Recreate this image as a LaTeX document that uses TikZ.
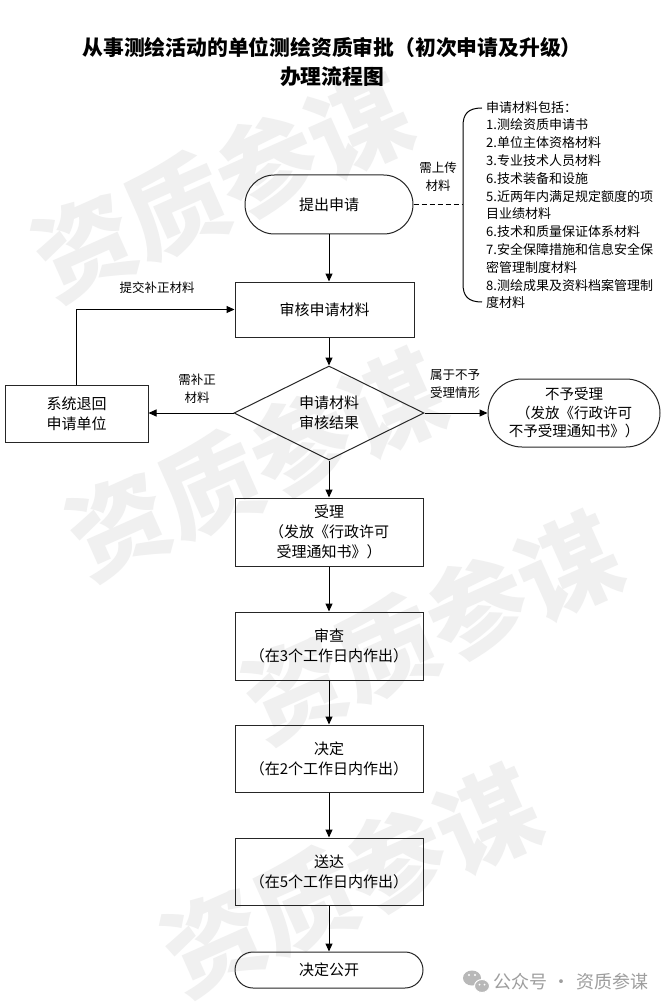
\documentclass[tikz,border=0pt]{standalone}
\usepackage{fontspec}
\setmainfont{Noto Sans CJK SC}
\usetikzlibrary{arrows.meta,shapes.geometric}
\begin{document}
\begin{tikzpicture}[x=1pt,y=-1pt,
  box/.style={draw=black!85,line width=1pt,minimum width=188pt,minimum height=68pt,inner sep=0pt,align=center,font=\fontsize{15}{20}\selectfont},
  term/.style={draw=black!85,line width=1pt,inner sep=0pt,align=center,font=\fontsize{15}{20}\selectfont},
  lbl/.style={inner sep=0pt,align=center,font=\fontsize{12.5}{18}\selectfont},
  arr/.style={draw=black,line width=1pt,-{Triangle[length=8pt,width=7pt]}},
  wm/.style={text=black!6,font=\fontsize{100}{100}\selectfont\bfseries,rotate=24,inner sep=0pt}]
\fill[white] (0,0) rectangle (665,1008);
\useasboundingbox (0,0) rectangle (665,1008);
% watermark
\node[wm] (wmA) at (221,185) {资质参谋};
\node[wm] (wmB) at (255,464) {资质参谋};
\node[wm] (wmC) at (431,627) {资质参谋};
\node[wm] (wmD) at (350,880) {资质参谋};
% title
\node[font=\fontsize{20.8}{29}\selectfont\bfseries,align=center,inner sep=0pt] (title) at (332,61.5) {从事测绘活动的单位测绘资质审批（初次申请及升级）\\办理流程图};
% nodes
\node[term,rounded corners=29.5pt,minimum width=168pt,minimum height=59pt] (apply) at (329,204.5) {提出申请};
\node[box,minimum width=179pt,minimum height=55pt] (review) at (324.5,309.5) {审核申请材料};
\node[diamond,draw=black!85,line width=1pt,inner sep=0pt,minimum width=190pt,minimum height=94pt,align=center,font=\fontsize{15}{20}\selectfont] (dec) at (329,413) {申请材料\\审核结果};
\node[box,minimum width=143pt,minimum height=57pt] (back) at (76.5,413.5) {系统退回\\申请单位};
\node[term,rounded corners=34pt,minimum width=172pt,minimum height=68pt,font=\fontsize{14.5}{18.5}\selectfont] (noacc) at (574,413) {不予受理\\（发放《行政许可\\不予受理通知书》）};
\node[box] (accept) at (329,532) {受理\\（发放《行政许可\\受理通知书》）};
\node[box] (exam) at (329,646) {审查\\（在3个工作日内作出）};
\node[box,minimum height=67pt] (decide) at (329,758.5) {决定\\（在2个工作日内作出）};
\node[box,minimum height=67pt] (deliver) at (329,871.5) {送达\\（在5个工作日内作出）};
\node[term,rounded corners=18pt,minimum width=188pt,minimum height=36pt] (public) at (329,970) {决定公开};
% list annotation
\coordinate (brk) at (463,204.5);
\draw[line width=1pt] (482,108) .. controls (468,108) and (463,114) .. (463,126) -- (463,284) .. controls (463,296) and (468,302) .. (482,302);
\draw[line width=1pt,dash pattern=on 5pt off 3pt] (apply.east) -- (brk);
\node[anchor=north west,inner sep=0pt,align=left,font=\fontsize{13}{17.8}\selectfont] (list) at (486,101) {申请材料包括：\\1.测绘资质申请书\\2.单位主体资格材料\\3.专业技术人员材料\\6.技术装备和设施\\5.近两年内满足规定额度的项\\目业绩材料\\6.技术和质量保证体系材料\\7.安全保障措施和信息安全保\\密管理制度材料\\8.测绘成果及资料档案管理制\\度材料};
% connectors
\draw[arr] (apply.south) -- (apply.south |- review.north);
\draw[arr] (apply.south |- review.south) -- (dec.north);
\draw[arr] (dec.south) -- (accept.north);
\draw[arr] (accept.south) -- (exam.north);
\draw[arr] (exam.south) -- (decide.north);
\draw[arr] (decide.south) -- (deliver.north);
\draw[arr] (deliver.south) -- (public.north);
\draw[arr] (dec.west) -- (dec.west -| back.east);
\draw[arr] (dec.east) -- (noacc.west);
\draw[arr] (back.north) |- (review.west);
% labels
\node[lbl] (l1) at (438,177) {需上传\\材料};
\node[lbl] (l2) at (197,388.5) {需补正\\材料};
\node[lbl] (l3) at (455,384) {属于不予\\受理情形};
\node[lbl] (l4) at (157,288) {提交补正材料};
% footer
\fill[black!28] (472,978) ellipse [x radius=9pt, y radius=7.5pt];
\fill[black!28,draw=white,line width=1pt] (482,986) ellipse [x radius=7.5pt, y radius=6.5pt];
\fill[white] (469,975) circle (1.2pt) (475,975) circle (1.2pt) (479.5,984.5) circle (1pt) (484.5,984.5) circle (1pt);
\node[anchor=west,inner sep=0pt,text=black!38,font=\fontsize{18}{18}\selectfont] (footer) at (493,982) {公众号\hspace{0.3em}·\hspace{0.3em}资质参谋};
\end{tikzpicture}
\end{document}
